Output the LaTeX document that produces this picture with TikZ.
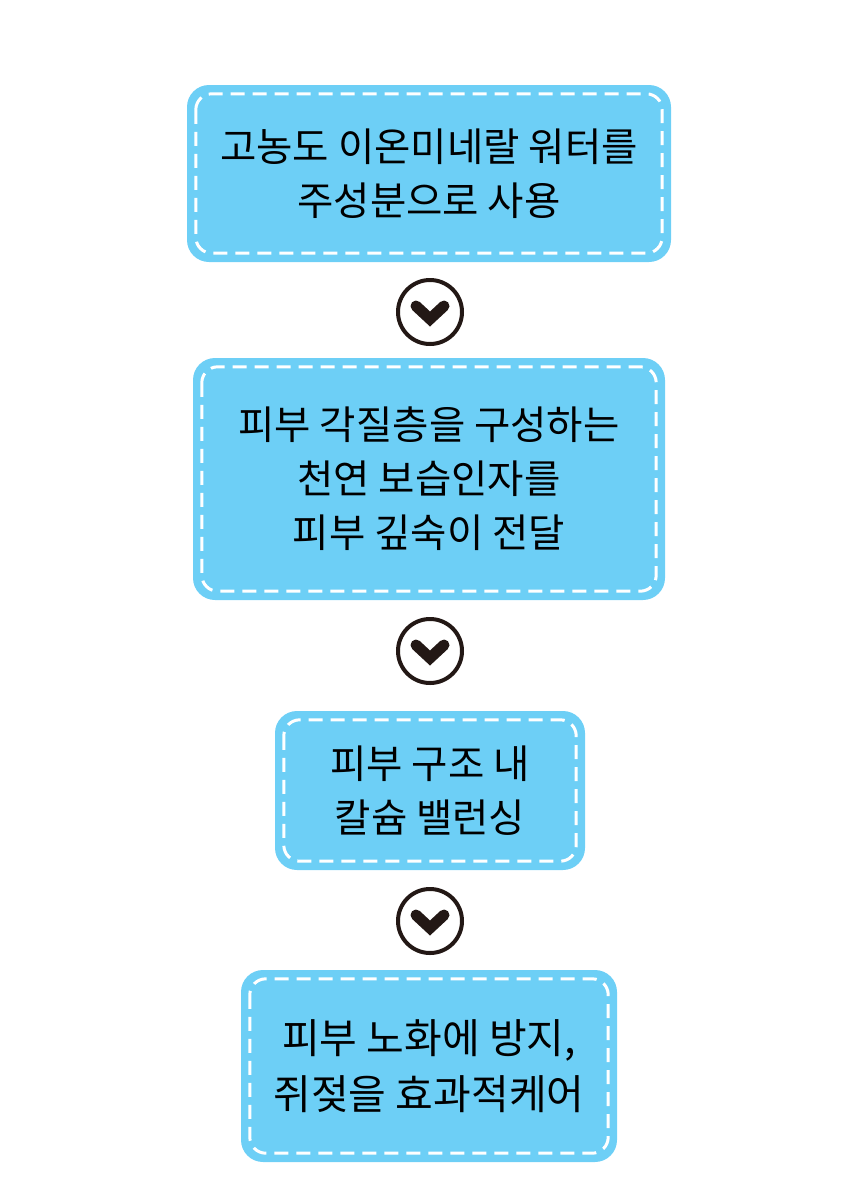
\documentclass[tikz,border=0pt]{standalone}
\usepackage{fontspec}
\setmainfont{Noto Sans CJK KR}
\usepackage{xcolor}
\usetikzlibrary{calc}
\definecolor{skyfill}{HTML}{6DCFF6}
\definecolor{chevdark}{HTML}{231815}
\tikzset{
  stepbox/.style={fill=skyfill, rounded corners=22pt, inner sep=0pt, align=center,
    font=\fontsize{39.5}{54}\selectfont},
  seam/.style={draw=white, line width=3pt, dash pattern=on 14pt off 8pt, rounded corners=16pt},
  ring/.style={circle, draw=chevdark, line width=4pt, fill=white, minimum size=64pt, inner sep=0pt},
  chev/.style={draw=chevdark, line width=11pt, line cap=round, line join=miter}
}

\begin{document}
\begin{tikzpicture}[x=1pt, y=-1pt]
    \useasboundingbox (0,0) rectangle (860,1200);

    \node[stepbox, minimum width=484pt, minimum height=177pt] at (429, 173.5) (water)
      {고농도 이온미네랄 워터를\\주성분으로 사용};
    \node[stepbox, minimum width=472pt, minimum height=242pt] at (429, 479) (moist)
      {피부 각질층을 구성하는\\천연 보습인자를\\피부 깊숙이 전달};
    \node[stepbox, minimum width=310pt, minimum height=159pt] at (430, 790.5) (calc)
      {피부 구조 내\\칼슘 밸런싱};
    \node[stepbox, minimum width=376pt, minimum height=192pt,
      font=\fontsize{41}{56}\selectfont] at (429, 1066) (care)
      {피부 노화에 방지,\\쥐젖을 효과적케어};

    % dashed stitch inside each box
    \foreach \b in {water, moist, calc, care}
      \draw[seam] ($(\b.north west)+(9,9)$) rectangle ($(\b.south east)+(-9,-9)$);

    \node[ring] at (430, 312) (down1) {};
    \node[ring] at (430, 651) (down2) {};
    \node[ring] at (430, 921) (down3) {};

    \foreach \c in {down1, down2, down3}
      \draw[chev] ($(\c.center)+(-14,-6)$) -- ($(\c.center)+(0,7)$) -- ($(\c.center)+(14,-6)$);
\end{tikzpicture}
\end{document}
